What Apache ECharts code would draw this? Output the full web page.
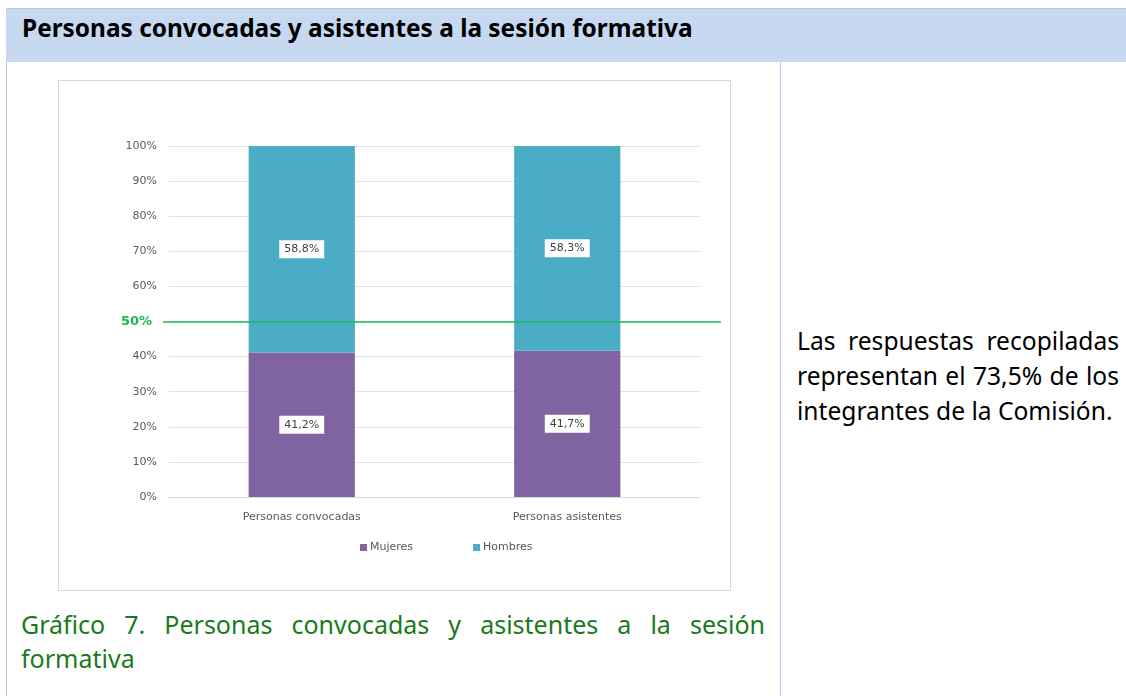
<!DOCTYPE html>
<html>
<head>
<meta charset="utf-8">
<script src="https://cdn.jsdelivr.net/npm/echarts@6/dist/echarts.min.js"></script>
<style>
  html, body { margin:0; padding:0; width:1126px; height:696px; background:#fff; overflow:hidden; font-family:"Noto Sans", sans-serif; }
  #header { position:absolute; left:6px; top:8px; width:1120px; height:54px; background:#c6d9f0; border-top:1px solid #b4c6e7; box-sizing:border-box; }
  #title { position:absolute; left:16px; top:0; height:53px; line-height:38px; font-weight:bold; font-size:24.4px; color:#000; white-space:nowrap; }
  #lborder { position:absolute; left:6px; top:62px; width:1px; height:634px; background:#b4c6e7; }
  #divider { position:absolute; left:780px; top:62px; width:1px; height:634px; background:#b4c6e7; }
  #chartbox { position:absolute; left:58px; top:80px; width:673px; height:511px; border:1px solid #d9d9d9; box-sizing:border-box; }
  #chart { width:671px; height:509px; }
  #caption { position:absolute; left:21px; top:607px; width:744px; font-size:25px; line-height:34px; color:#1a7a1a; text-align:justify; }
  #side { position:absolute; left:797px; top:323px; width:322px; font-size:24.6px; line-height:35px; color:#000; text-align:justify; }
</style>
</head>
<body>
<div id="header"><div id="title">Personas convocadas y asistentes a la sesión formativa</div></div>
<div id="lborder"></div>
<div id="divider"></div>
<div id="chartbox"><div id="chart"></div></div>
<div id="caption">Gráfico 7. Personas convocadas y asistentes a la sesión formativa</div>
<div id="side">Las respuestas recopiladas representan el 73,5% de los integrantes de la Comisión.</div>
<script>
const categories = ['Personas convocadas', 'Personas asistentes'];
const mujeres = [41.2, 41.7];
const hombres = [58.8, 58.3];
const seriesNames = ['Mujeres', 'Hombres'];
const yTicks = [0, 10, 20, 30, 40, 50, 60, 70, 80, 90, 100];
const referenceValue = 50;
const referenceLabel = '50%';

const fmt = v => v.toFixed(1).replace('.', ',') + '%';
const labelStyle = {
  show: true, position: 'inside',
  formatter: p => fmt(p.value),
  backgroundColor: '#ffffff', color: '#404040',
  fontSize: 11, fontFamily: 'DejaVu Sans', padding: [4, 5, 3, 5]
};
const refColor = '#1db85c';

const chart = echarts.init(document.getElementById('chart'));
chart.setOption({
  animation: false,
  textStyle: { fontFamily: 'DejaVu Sans' },
  grid: [
    { left: 110, top: 65, width: 531, height: 351 },
    { left: 104, top: 65, width: 558, height: 351 }
  ],
  legend: {
    data: seriesNames, left: 296, top: 456,
    itemWidth: 7, itemHeight: 7, itemGap: 60, icon: 'rect',
    textStyle: { fontSize: 11, color: '#595959', fontFamily: 'DejaVu Sans', padding: [0, 0, 0, -2] }
  },
  xAxis: [
    { type: 'category', data: categories, gridIndex: 0,
      axisLine: { lineStyle: { color: '#d9d9d9' } }, axisTick: { show: false },
      axisLabel: { color: '#595959', fontSize: 11, margin: 15 } },
    { type: 'value', gridIndex: 1, min: 0, max: 1, show: false,
      axisLine: { show: false }, splitLine: { show: false } }
  ],
  yAxis: [
    { type: 'value', gridIndex: 0, min: yTicks[0], max: yTicks[yTicks.length - 1], interval: 10,
      axisLabel: { formatter: v => (v === referenceValue ? '' : v + '%'), color: '#595959', fontSize: 11, margin: 12 },
      axisLine: { show: false }, axisTick: { show: false },
      splitLine: { lineStyle: { color: '#e3e3e3' } } },
    { type: 'value', gridIndex: 1, min: yTicks[0], max: yTicks[yTicks.length - 1], show: false,
      axisLine: { show: false }, splitLine: { show: false } }
  ],
  series: [
    { name: seriesNames[0], type: 'bar', stack: 'total', data: mujeres, barWidth: '40%',
      itemStyle: { color: '#8064a2' }, label: labelStyle },
    { name: seriesNames[1], type: 'bar', stack: 'total', data: hombres, barWidth: '40%',
      itemStyle: { color: '#4bacc6' }, label: labelStyle },
    { name: 'ref', type: 'line', xAxisIndex: 1, yAxisIndex: 1, z: 5,
      data: [],
      markLine: {
        silent: true, symbol: 'none',
        lineStyle: { color: refColor, width: 1.5, type: 'solid', opacity: 1 },
        label: { show: true, position: 'start', distance: 11, formatter: referenceLabel, color: '#1fb556', fontWeight: 'bold', fontSize: 13, fontFamily: 'DejaVu Sans' },
        data: [{ yAxis: referenceValue }]
      }
    }
  ]
});
</script>
</body>
</html>
